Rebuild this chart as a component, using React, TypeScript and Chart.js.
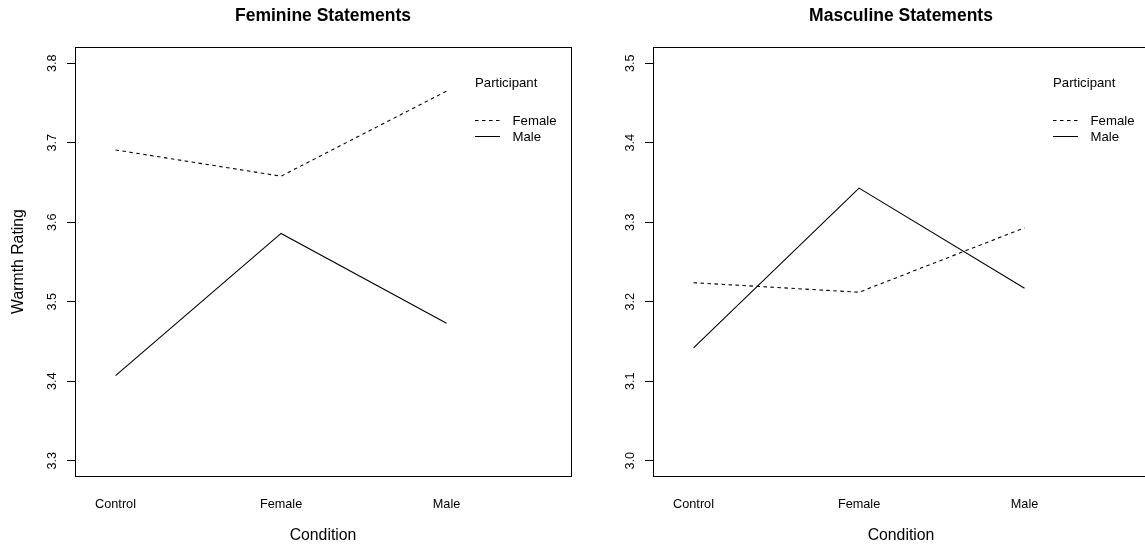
import React, { useEffect, useRef } from 'react';
import { Chart, registerables } from 'chart.js';

Chart.register(...registerables);

// ---- data ----
const conditions = ['Control', 'Female', 'Male'];
const conditionPositions = [1, 2, 3];
const participantLabels = ['Female', 'Male'];
const legendTitle = 'Participant';

const feminineFemale = [3.691, 3.658, 3.765];
const feminineMale = [3.407, 3.586, 3.473];
const masculineFemale = [3.224, 3.212, 3.293];
const masculineMale = [3.142, 3.343, 3.217];

const feminineTicks = [3.3, 3.4, 3.5, 3.6, 3.7, 3.8];
const masculineTicks = [3.0, 3.1, 3.2, 3.3, 3.4, 3.5];

const FONT = "'Liberation Sans', Arial, Helvetica, sans-serif";

type PanelProps = {
  title: string;
  female: number[];
  male: number[];
  yTicks: number[];
  yMin: number;
  yMax: number;
  showYTitle: boolean;
  left: number;
};

const CW = 590;
const CH = 544;

function Panel({ title, female, male, yTicks, yMin, yMax, showYTitle, left }: PanelProps) {
  const ref = useRef<HTMLCanvasElement>(null);

  useEffect(() => {
    if (!ref.current) return;
    const toPts = (arr: number[]) => arr.map((v, i) => ({ x: conditionPositions[i], y: v }));

    const framePlugin = {
      id: 'frameAndLegend',
      afterDraw(chart: any) {
        const { ctx, chartArea } = chart;
        const { left: l, top: t, right: r, bottom: b } = chartArea;
        ctx.save();
        // box
        ctx.strokeStyle = '#000';
        ctx.lineWidth = 1;
        ctx.setLineDash([]);
        ctx.strokeRect(Math.round(l) + 0.5, Math.round(t) + 0.5, Math.round(r - l), Math.round(b - t));
        // title
        ctx.fillStyle = '#000';
        ctx.font = `bold 17.5px ${FONT}`;
        ctx.textAlign = 'center';
        ctx.textBaseline = 'middle';
        ctx.fillText(title, (l + r) / 2, 16);
        // legend
        ctx.font = `13.2px ${FONT}`;
        ctx.textAlign = 'left';
        ctx.fillText(legendTitle, l + 400, 83.5);
        const ys = [120.5, 136.5];
        chart.data.datasets.forEach((ds: any, i: number) => {
          ctx.beginPath();
          ctx.setLineDash(ds.borderDash || []);
          ctx.moveTo(l + 400, ys[i]);
          ctx.lineTo(l + 425, ys[i]);
          ctx.stroke();
          ctx.setLineDash([]);
          ctx.fillText(ds.label, l + 437.5, ys[i] + 0.5);
        });
        ctx.restore();
      },
    };

    const chart = new Chart(ref.current, {
      type: 'line',
      data: {
        datasets: [
          {
            label: participantLabels[0],
            data: toPts(female),
            borderColor: '#000',
            borderWidth: 1.1,
            borderDash: [3.5, 3.5],
            pointRadius: 0,
            tension: 0,
            fill: false,
          },
          {
            label: participantLabels[1],
            data: toPts(male),
            borderColor: '#000',
            borderWidth: 1.1,
            pointRadius: 0,
            tension: 0,
            fill: false,
          },
        ],
      },
      options: {
        animation: false,
        responsive: false,
        devicePixelRatio: 1,
        events: [],
        layout: { padding: { left: 0, top: 47, right: CW - 571, bottom: 0 } },
        plugins: {
          legend: { display: false },
          title: { display: false },
          tooltip: { enabled: false },
        },
        scales: {
          x: {
            type: 'linear',
            min: 0.755,
            max: 3.752,
            afterBuildTicks: (s: any) => {
              s.ticks = conditionPositions.map((v) => ({ value: v }));
            },
            afterFit: (s: any) => {
              s.height = CH - 476;
            },
            grid: { display: false, drawTicks: false },
            border: { display: false },
            ticks: {
              autoSkip: false,
              maxRotation: 0,
              minRotation: 0,
              padding: 20.5,
              color: '#000',
              font: { family: FONT, size: 12.7 },
              callback: (v: any) => {
                const idx = conditionPositions.indexOf(Number(v));
                return idx >= 0 ? conditions[idx] : '';
              },
            },
            title: {
              display: true,
              text: 'Condition',
              color: '#000',
              font: { family: FONT, size: 15.8, lineHeight: 1.0 },
              padding: { top: 0, bottom: 0.2 },
            },
          },
          y: {
            type: 'linear',
            min: yMin,
            max: yMax,
            afterBuildTicks: (s: any) => {
              s.ticks = yTicks.map((v) => ({ value: v }));
            },
            afterFit: (s: any) => {
              s.width = 75;
            },
            grid: {
              display: true,
              drawOnChartArea: false,
              drawTicks: true,
              tickLength: 8,
              color: '#000',
              lineWidth: 1,
            },
            border: { display: false },
            ticks: {
              minRotation: 90,
              maxRotation: 90,
              crossAlign: 'center',
              padding: 6,
              color: '#000',
              font: { family: FONT, size: 12.7 },
              callback: (v: any) => Number(v).toFixed(1),
            },
            title: {
              display: showYTitle,
              text: 'Warmth Rating',
              color: '#000',
              font: { family: FONT, size: 15.8 },
              padding: { top: 9.5, bottom: 0 },
            },
          },
        },
      },
      plugins: [framePlugin],
    } as any);

    return () => chart.destroy();
  }, []);

  return (
    <canvas
      ref={ref}
      width={CW}
      height={CH}
      style={{ position: 'absolute', left, top: 0, width: CW, height: CH }}
    />
  );
}

export default function App() {
  return (
    <div
      style={{
        position: 'absolute',
        left: 0,
        top: 0,
        width: 1145,
        height: 544,
        overflow: 'hidden',
        background: '#fff',
      }}
    >
      <Panel
        title="Feminine Statements"
        female={feminineFemale}
        male={feminineMale}
        yTicks={feminineTicks}
        yMin={3.2808}
        yMax={3.8205}
        showYTitle={true}
        left={0}
      />
      <Panel
        title="Masculine Statements"
        female={masculineFemale}
        male={masculineMale}
        yTicks={masculineTicks}
        yMin={2.9808}
        yMax={3.5205}
        showYTitle={false}
        left={578}
      />
    </div>
  );
}
